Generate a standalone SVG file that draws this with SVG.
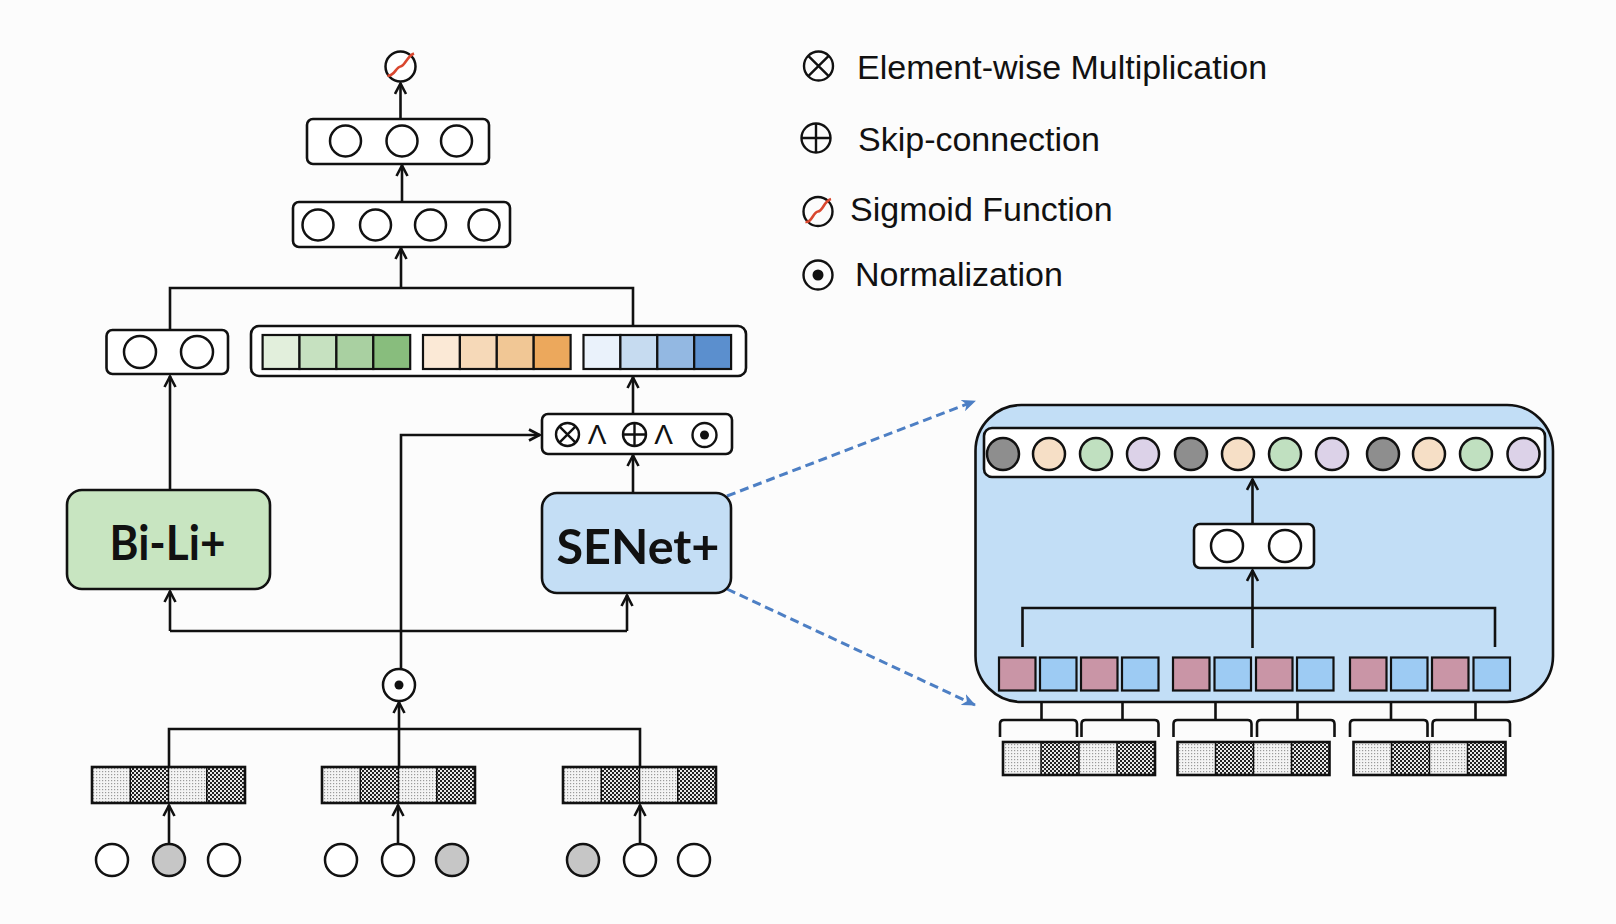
<svg xmlns="http://www.w3.org/2000/svg" width="1616" height="924" viewBox="0 0 1616 924">
<defs>
<style>
.ln{fill:none;stroke:#111;stroke-width:2.6}
.bx{fill:#fff;stroke:#111;stroke-width:2.6}
.c{fill:#fff;stroke:#111;stroke-width:2.5}
.cell{stroke:#111;stroke-width:2.2}
.lg{font-family:"Liberation Sans",Arial,sans-serif;font-size:34px;fill:#111}
.big{font-family:Lato,"Liberation Sans",sans-serif;font-weight:bold;font-size:48px;fill:#111}
.dash{fill:none;stroke:#4d7fc4;stroke-width:3;stroke-dasharray:9 5}
.sym{fill:none;stroke:#111;stroke-width:2.4}
.wedge{font-family:"Liberation Sans",Arial,sans-serif;font-size:28px;fill:#111}
.g1{fill:#8e8e8e}
.g2{fill:#f6dfc6}
.g3{fill:#c0e0c0}
.g4{fill:#dcd2e8}
.gy{fill:#c6c6c6}
</style>
<marker id="arr" viewBox="0 0 14 14" refX="13" refY="7" markerWidth="14" markerHeight="14" markerUnits="userSpaceOnUse" orient="auto">
<path d="M2,1.5 L12.5,7 L2,12.5" fill="none" stroke="#111" stroke-width="2.6"/>
</marker>
<marker id="barr" viewBox="0 0 14 12" refX="13" refY="6" markerWidth="14" markerHeight="12" markerUnits="userSpaceOnUse" orient="auto">
<path d="M0,0 L14,6 L0,12 L4,6 Z" fill="#4d7fc4"/>
</marker>
<pattern id="lt" width="3" height="3" patternUnits="userSpaceOnUse">
<rect width="3" height="3" fill="#f4f4f4"/>
<rect width="1.2" height="1.2" fill="#9a9a9a"/>
</pattern>
<pattern id="dk" width="4" height="4" patternUnits="userSpaceOnUse">
<rect width="4" height="4" fill="#e8e8e8"/>
<rect width="2" height="2" fill="#222"/>
<rect x="2" y="2" width="2" height="2" fill="#222"/>
</pattern>
</defs>
<rect width="1616" height="924" fill="#fcfcfc"/>

<g id="connectors">
<path class="ln" d="M400.5,119 V83" marker-end="url(#arr)"/>
<path class="ln" d="M402,202 V165" marker-end="url(#arr)"/>
<path class="ln" d="M170,330 V288 H633 V326"/>
<path class="ln" d="M401,288 V248" marker-end="url(#arr)"/>
<path class="ln" d="M170,490 V376" marker-end="url(#arr)"/>
<path class="ln" d="M633,414 V377" marker-end="url(#arr)"/>
<path class="ln" d="M633,493 V455" marker-end="url(#arr)"/>
<path class="ln" d="M401,669 V435 H540" marker-end="url(#arr)"/>
<path class="ln" d="M170,631 H627"/>
<path class="ln" d="M170,631 V591" marker-end="url(#arr)"/>
<path class="ln" d="M627,631 V595" marker-end="url(#arr)"/>
<path class="ln" d="M169,767 V729 H640 V767"/>
<path class="ln" d="M399,767 V702" marker-end="url(#arr)"/>
<path class="ln" d="M169,844 V805" marker-end="url(#arr)"/>
<path class="ln" d="M398,844 V805" marker-end="url(#arr)"/>
<path class="ln" d="M640,844 V805" marker-end="url(#arr)"/>
<path class="dash" d="M727,496 L975,401" marker-end="url(#barr)"/>
<path class="dash" d="M727,589 L975,705" marker-end="url(#barr)"/>
</g>

<g id="sigmoid-out">
<circle class="c" cx="400.5" cy="66.5" r="15"/>
<path d="M387.5,75.5 C394,77 396,67 400.5,66.5 S407,56 414,53.5" fill="none" stroke="#d9472f" stroke-width="2.6"/>
</g>

<g id="mlp3">
<rect class="bx" x="307" y="119" width="182" height="45" rx="6"/>
<circle class="c" cx="345.5" cy="141" r="15.5"/>
<circle class="c" cx="402" cy="141" r="15.5"/>
<circle class="c" cx="456.5" cy="141" r="15.5"/>
</g>

<g id="mlp4">
<rect class="bx" x="293" y="202" width="217" height="45" rx="6"/>
<circle class="c" cx="318" cy="225" r="15.5"/>
<circle class="c" cx="375.5" cy="225" r="15.5"/>
<circle class="c" cx="430.5" cy="225" r="15.5"/>
<circle class="c" cx="484" cy="225" r="15.5"/>
</g>

<g id="bili-out">
<rect class="bx" x="106.5" y="330" width="121.5" height="44" rx="6"/>
<circle class="c" cx="140" cy="352" r="16"/>
<circle class="c" cx="197" cy="352" r="16"/>
</g>

<g id="senet-out">
<rect class="bx" x="251" y="326" width="495" height="50" rx="8"/>
<rect class="cell" x="262.6" y="335" width="36.9" height="34" fill="#e2efdc"/>
<rect class="cell" x="299.5" y="335" width="36.9" height="34" fill="#c6e1c0"/>
<rect class="cell" x="336.4" y="335" width="36.9" height="34" fill="#a9d0a1"/>
<rect class="cell" x="373.3" y="335" width="36.9" height="34" fill="#88bd7d"/>
<rect class="cell" x="423" y="335" width="36.9" height="34" fill="#fbe9d6"/>
<rect class="cell" x="459.9" y="335" width="36.9" height="34" fill="#f6d9b8"/>
<rect class="cell" x="496.8" y="335" width="36.9" height="34" fill="#f1c795"/>
<rect class="cell" x="533.7" y="335" width="36.9" height="34" fill="#eca85c"/>
<rect class="cell" x="583.5" y="335" width="36.9" height="34" fill="#eaf2fb"/>
<rect class="cell" x="620.4" y="335" width="36.9" height="34" fill="#c6dbf0"/>
<rect class="cell" x="657.3" y="335" width="36.9" height="34" fill="#93b8e2"/>
<rect class="cell" x="694.2" y="335" width="36.9" height="34" fill="#5b8fce"/>
</g>

<g id="ops">
<rect class="bx" x="542" y="414" width="190" height="40" rx="6"/>
<circle class="sym" cx="567.5" cy="434.5" r="11.5"/>
<path class="sym" d="M559.4,426.4 L575.6,442.6 M575.6,426.4 L559.4,442.6"/>
<text class="wedge" x="597" y="444" text-anchor="middle">Λ</text>
<circle class="sym" cx="634.5" cy="434.5" r="11.5"/>
<path class="sym" d="M623,434.5 H646 M634.5,423 V446"/>
<text class="wedge" x="663.5" y="444" text-anchor="middle">Λ</text>
<circle class="sym" cx="704.5" cy="435" r="12"/>
<circle cx="704.5" cy="435" r="4.5" fill="#111"/>
</g>

<g id="bili">
<rect x="67" y="490" width="203" height="99" rx="15" fill="#c8e5c1" stroke="#111" stroke-width="2.6"/>
<text class="big" x="167.5" y="560" text-anchor="middle" textLength="116" lengthAdjust="spacingAndGlyphs">Bi-Li+</text>
</g>

<g id="senet">
<rect x="542" y="493" width="189" height="100" rx="15" fill="#c4def5" stroke="#111" stroke-width="2.6"/>
<text class="big" x="638" y="564" text-anchor="middle" textLength="163" lengthAdjust="spacingAndGlyphs">SENet+</text>
</g>

<g id="norm">
<circle class="c" cx="399" cy="685" r="16"/>
<circle cx="399" cy="685" r="4.5" fill="#111"/>
</g>

<g id="emb-left">
<rect x="92" y="767" width="38.25" height="36" fill="url(#lt)"/>
<rect x="130.25" y="767" width="38.25" height="36" fill="url(#dk)"/>
<rect x="168.5" y="767" width="38.25" height="36" fill="url(#lt)"/>
<rect x="206.75" y="767" width="38.25" height="36" fill="url(#dk)"/>
<path d="M130.25,767 V803 M168.5,767 V803 M206.75,767 V803" stroke="#111" stroke-width="1.5"/>
<rect x="92" y="767" width="153" height="36" fill="none" stroke="#111" stroke-width="2.6"/>
</g>
<g id="emb-mid">
<rect x="322" y="767" width="38.25" height="36" fill="url(#lt)"/>
<rect x="360.25" y="767" width="38.25" height="36" fill="url(#dk)"/>
<rect x="398.5" y="767" width="38.25" height="36" fill="url(#lt)"/>
<rect x="436.75" y="767" width="38.25" height="36" fill="url(#dk)"/>
<path d="M360.25,767 V803 M398.5,767 V803 M436.75,767 V803" stroke="#111" stroke-width="1.5"/>
<rect x="322" y="767" width="153" height="36" fill="none" stroke="#111" stroke-width="2.6"/>
</g>
<g id="emb-right">
<rect x="563" y="767" width="38.25" height="36" fill="url(#lt)"/>
<rect x="601.25" y="767" width="38.25" height="36" fill="url(#dk)"/>
<rect x="639.5" y="767" width="38.25" height="36" fill="url(#lt)"/>
<rect x="677.75" y="767" width="38.25" height="36" fill="url(#dk)"/>
<path d="M601.25,767 V803 M639.5,767 V803 M677.75,767 V803" stroke="#111" stroke-width="1.5"/>
<rect x="563" y="767" width="153" height="36" fill="none" stroke="#111" stroke-width="2.6"/>
</g>

<g id="fields-left">
<circle class="c" cx="112" cy="860" r="16"/>
<circle class="c gy" cx="169" cy="860" r="16"/>
<circle class="c" cx="224" cy="860" r="16"/>
</g>
<g id="fields-mid">
<circle class="c" cx="341" cy="860" r="16"/>
<circle class="c" cx="398" cy="860" r="16"/>
<circle class="c gy" cx="452" cy="860" r="16"/>
</g>
<g id="fields-right">
<circle class="c gy" cx="583" cy="860" r="16"/>
<circle class="c" cx="640" cy="860" r="16"/>
<circle class="c" cx="694" cy="860" r="16"/>
</g>

<g id="legend">
<circle class="sym" cx="818.5" cy="66" r="14.5"/>
<path class="sym" d="M808.3,55.8 L828.7,76.2 M828.7,55.8 L808.3,76.2"/>
<text class="lg" x="857" y="79">Element-wise Multiplication</text>
<circle class="sym" cx="816" cy="138" r="14.5"/>
<path class="sym" d="M801.5,138 H830.5 M816,123.5 V152.5"/>
<text class="lg" x="858" y="151">Skip-connection</text>
<circle class="sym" cx="818" cy="211.5" r="14.5"/>
<path d="M805.5,222 C812,223 813,212 818,211.5 S824,201 831,199" fill="none" stroke="#d9472f" stroke-width="2.6"/>
<text class="lg" x="850" y="221">Sigmoid Function</text>
<circle class="sym" cx="818" cy="275" r="14.5"/>
<circle cx="818" cy="275" r="5.5" fill="#111"/>
<text class="lg" x="855" y="286">Normalization</text>
</g>

<g id="senet-detail">
<rect x="975.5" y="405" width="577.5" height="297" rx="46" fill="#c2def6" stroke="#111" stroke-width="2.6"/>
<rect class="bx" x="984" y="428" width="561" height="49" rx="8"/>
<circle class="c g1" cx="1003" cy="454" r="16"/>
<circle class="c g2" cx="1049" cy="454" r="16"/>
<circle class="c g3" cx="1096" cy="454" r="16"/>
<circle class="c g4" cx="1143" cy="454" r="16"/>
<circle class="c g1" cx="1191" cy="454" r="16"/>
<circle class="c g2" cx="1238" cy="454" r="16"/>
<circle class="c g3" cx="1285" cy="454" r="16"/>
<circle class="c g4" cx="1332" cy="454" r="16"/>
<circle class="c g1" cx="1383" cy="454" r="16"/>
<circle class="c g2" cx="1429" cy="454" r="16"/>
<circle class="c g3" cx="1476" cy="454" r="16"/>
<circle class="c g4" cx="1523.5" cy="454" r="16"/>
<path class="ln" d="M1252.5,524 V479" marker-end="url(#arr)"/>
<rect class="bx" x="1194" y="524" width="120" height="44" rx="6"/>
<circle class="c" cx="1227" cy="546" r="16"/>
<circle class="c" cx="1285" cy="546" r="16"/>
<path class="ln" d="M1022.5,647 V608 H1495 V647"/>
<path class="ln" d="M1252.5,648 V570" marker-end="url(#arr)"/>
<rect class="cell" x="999" y="657.5" width="36.5" height="33" fill="#c995a6"/>
<rect class="cell" x="1040" y="657.5" width="36.5" height="33" fill="#9dcbf3"/>
<rect class="cell" x="1081" y="657.5" width="36.5" height="33" fill="#c995a6"/>
<rect class="cell" x="1122" y="657.5" width="36.5" height="33" fill="#9dcbf3"/>
<rect class="cell" x="1173" y="657.5" width="36.5" height="33" fill="#c995a6"/>
<rect class="cell" x="1214.5" y="657.5" width="36.5" height="33" fill="#9dcbf3"/>
<rect class="cell" x="1256" y="657.5" width="36.5" height="33" fill="#c995a6"/>
<rect class="cell" x="1297" y="657.5" width="36.5" height="33" fill="#9dcbf3"/>
<rect class="cell" x="1350" y="657.5" width="36.5" height="33" fill="#c995a6"/>
<rect class="cell" x="1391" y="657.5" width="36.5" height="33" fill="#9dcbf3"/>
<rect class="cell" x="1432" y="657.5" width="36.5" height="33" fill="#c995a6"/>
<rect class="cell" x="1473.5" y="657.5" width="36.5" height="33" fill="#9dcbf3"/>
</g>

<g id="detail-brackets">
<path class="ln" d="M1000,737 V724 Q1000,720 1004,720 H1073 Q1077,720 1077,724 V737 M1041.5,720 V703"/>
<path class="ln" d="M1081.5,737 V724 Q1081.5,720 1085.5,720 H1154.5 Q1158.5,720 1158.5,724 V737 M1122.5,720 V703"/>
<path class="ln" d="M1173.5,737 V724 Q1173.5,720 1177.5,720 H1247.5 Q1251.5,720 1251.5,724 V737 M1215.5,720 V703"/>
<path class="ln" d="M1257,737 V724 Q1257,720 1261,720 H1330.5 Q1334.5,720 1334.5,724 V737 M1297.5,720 V703"/>
<path class="ln" d="M1350,737 V724 Q1350,720 1354,720 H1423.5 Q1427.5,720 1427.5,724 V737 M1391,720 V703"/>
<path class="ln" d="M1432.5,737 V724 Q1432.5,720 1436.5,720 H1506 Q1510,720 1510,724 V737 M1475.5,720 V703"/>
</g>

<g id="detail-emb1">
<rect x="1003" y="742" width="38" height="33" fill="url(#lt)"/>
<rect x="1041" y="742" width="38" height="33" fill="url(#dk)"/>
<rect x="1079" y="742" width="38" height="33" fill="url(#lt)"/>
<rect x="1117" y="742" width="38" height="33" fill="url(#dk)"/>
<path d="M1041,742 V775 M1079,742 V775 M1117,742 V775" stroke="#111" stroke-width="1.5"/>
<rect x="1003" y="742" width="152" height="33" fill="none" stroke="#111" stroke-width="2.6"/>
</g>
<g id="detail-emb2">
<rect x="1177.5" y="742" width="38" height="33" fill="url(#lt)"/>
<rect x="1215.5" y="742" width="38" height="33" fill="url(#dk)"/>
<rect x="1253.5" y="742" width="38" height="33" fill="url(#lt)"/>
<rect x="1291.5" y="742" width="38" height="33" fill="url(#dk)"/>
<path d="M1215.5,742 V775 M1253.5,742 V775 M1291.5,742 V775" stroke="#111" stroke-width="1.5"/>
<rect x="1177.5" y="742" width="152" height="33" fill="none" stroke="#111" stroke-width="2.6"/>
</g>
<g id="detail-emb3">
<rect x="1353.5" y="742" width="38" height="33" fill="url(#lt)"/>
<rect x="1391.5" y="742" width="38" height="33" fill="url(#dk)"/>
<rect x="1429.5" y="742" width="38" height="33" fill="url(#lt)"/>
<rect x="1467.5" y="742" width="38" height="33" fill="url(#dk)"/>
<path d="M1391.5,742 V775 M1429.5,742 V775 M1467.5,742 V775" stroke="#111" stroke-width="1.5"/>
<rect x="1353.5" y="742" width="152" height="33" fill="none" stroke="#111" stroke-width="2.6"/>
</g>
</svg>
